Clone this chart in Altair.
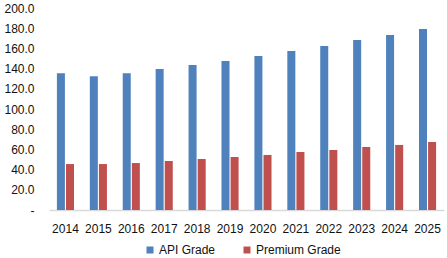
import altair as alt
import pandas as pd

years = ["2014", "2015", "2016", "2017", "2018", "2019", "2020", "2021", "2022", "2023", "2024", "2025"]
api_grade = [135.5, 132.5, 135.3, 139.5, 143.5, 147.5, 152.5, 157.4, 162.4, 168.3, 173.3, 179.2]
premium_grade = [45.5, 45.5, 46.5, 48.5, 50.5, 52.5, 54.5, 57.4, 59.4, 62.4, 64.4, 67.3]
series = ["API Grade", "Premium Grade"]
colors = ["#4f81bd", "#c0504d"]
y_ticks = [0, 20, 40, 60, 80, 100, 120, 140, 160, 180, 200]

rows = []
for i, yr in enumerate(years):
    rows.append({"year": yr, "series": series[0], "value": api_grade[i]})
    rows.append({"year": yr, "series": series[1], "value": premium_grade[i]})
df = pd.DataFrame(rows)

font = "Liberation Sans"
text_color = "#111111"

chart = alt.Chart(df).mark_bar().encode(
    x=alt.X("year:N", sort=years,
            scale=alt.Scale(paddingInner=0.48, paddingOuter=0.24),
            axis=alt.Axis(title=None, labelAngle=0, ticks=False, domain=True,
                          domainColor="#d9d9d9", domainWidth=1.5, labelPadding=13,
                          labelFont=font, labelFontSize=12, labelColor=text_color,
                          grid=False)),
    xOffset=alt.XOffset("series:N", sort=series, scale=alt.Scale(paddingInner=0.12)),
    y=alt.Y("value:Q",
            scale=alt.Scale(domain=[0, 200], nice=False),
            axis=alt.Axis(title=None, values=y_ticks, ticks=False, domain=False, grid=False,
                          labelExpr="datum.value == 0 ? '-\u00a0\u00a0\u00a0' : format(datum.value, '.1f')",
                          labelPadding=15, labelFont=font, labelFontSize=12,
                          labelColor=text_color)),
    color=alt.Color("series:N", sort=series,
                    scale=alt.Scale(domain=series, range=colors),
                    legend=alt.Legend(title=None, orient="none", legendX=95, legendY=236,
                                      direction="horizontal", columns=2, symbolType="square",
                                      symbolSize=49, symbolStrokeWidth=0, labelOffset=3,
                                      columnPadding=25, labelFont=font, labelFontSize=12,
                                      labelColor=text_color, padding=0)),
).properties(
    width=395, height=202,
    autosize=alt.AutoSizeParams(type="none"),
    padding={"left": 49, "top": 8, "right": 3, "bottom": 48},
).configure_view(stroke=None)

chart.save("out.html", embed_options={"renderer": "svg", "actions": False})
